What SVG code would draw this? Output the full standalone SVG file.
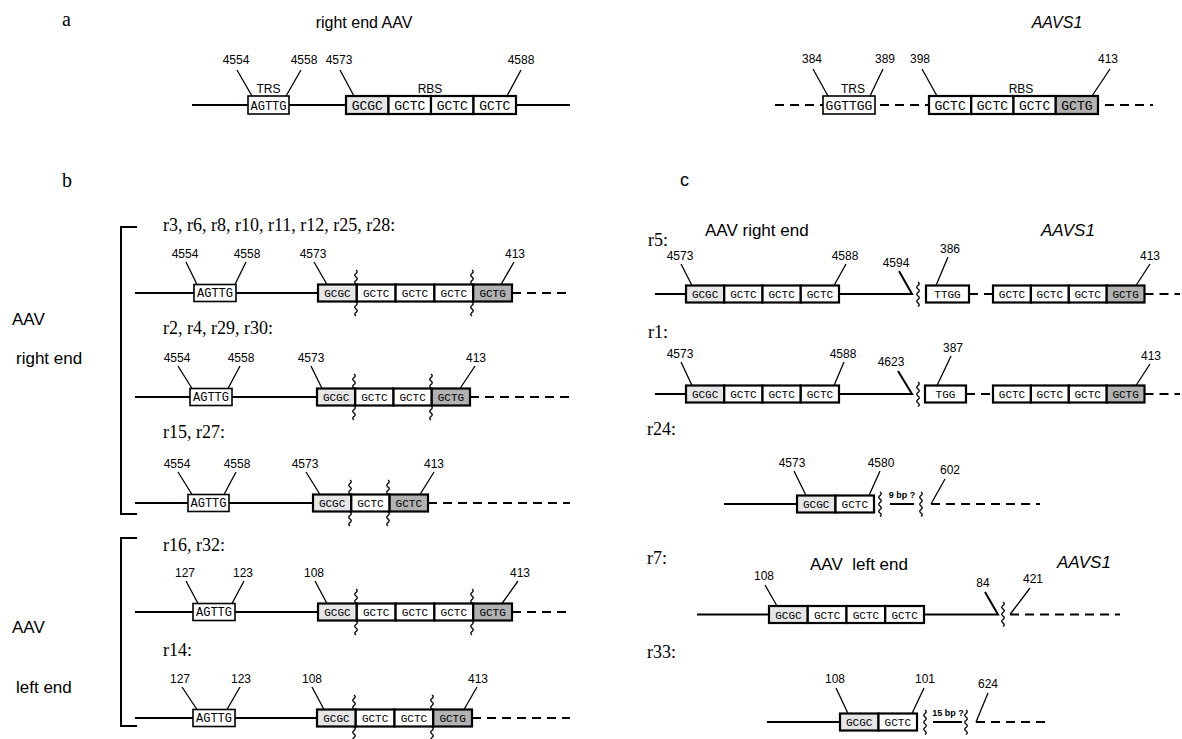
<svg xmlns="http://www.w3.org/2000/svg" width="1182" height="739" viewBox="0 0 1182 739">
<style>
.ln{stroke:#000;stroke-width:2;fill:none}
.ds{stroke:#000;stroke-width:2;stroke-dasharray:9 6;fill:none}
.pt{stroke:#000;stroke-width:1.3;fill:none}
.cb{stroke:#000;stroke-width:2.2}
.tb{fill:#fff;stroke:#000;stroke-width:1.6}
.c0{fill:#fff}
.c1{fill:#e6e6e6}
.c2{fill:#b2b2b2}
.sq{font-family:"Liberation Mono","DejaVu Sans Mono",monospace;font-size:11px;text-anchor:middle}
.sqa{font-family:"Liberation Mono","DejaVu Sans Mono",monospace;font-size:13px;text-anchor:middle}
.nm{font-family:"Liberation Sans",Arial,sans-serif;font-size:12px;text-anchor:middle}
.rl{font-family:"Liberation Serif","Times New Roman",serif;font-size:18px}
.hd{font-family:"Liberation Sans",Arial,sans-serif;font-size:16px}
.it{font-family:"Liberation Sans",Arial,sans-serif;font-size:16px;font-style:italic}
.sm{font-family:"Liberation Sans",Arial,sans-serif;font-size:9px;font-weight:bold;text-anchor:middle}
.wv{fill:none;stroke:#000;stroke-width:1.3}
</style>
<defs>
<path id="w14" class="wv" d="M0,0 q2.5,1.75 0,3.5 t0,3.5 t0,3.5 t0,3.5"/>
<path id="w24" class="wv" d="M0,0 q2.5,1.75 0,3.5 t0,3.5 t0,3.5 t0,3.5 t0,3.5 t0,3.5 t0,3.5"/>
</defs>

<!-- panel labels -->
<g id="labels">
<text class="rl" x="62" y="26" style="font-size:20px">a</text>
<text class="hd" x="364" y="28" text-anchor="middle">right end AAV</text>
<text class="it" x="1057" y="28" text-anchor="middle">AAVS1</text>
<text class="rl" x="62" y="187" style="font-size:20px">b</text>
<text class="hd" x="680" y="186" style="font-size:18px">c</text>
<text class="hd" x="12" y="325" style="font-size:17px">AAV</text>
<text class="hd" x="16" y="364" style="font-size:17px">right end</text>
<text class="hd" x="12" y="633" style="font-size:17px">AAV</text>
<text class="hd" x="16" y="693" style="font-size:17px">left end</text>
</g>

<!-- brackets -->
<g id="brackets">
<path class="ln" d="M137,227 H121 V514 H137"/>
<path class="ln" d="M137,538 H121 V726 H137"/>
</g>

<!-- panel a left -->
<g id="a-aav">
<line class="ln" x1="192" y1="105" x2="570" y2="105"/>
<rect class="tb" x="248" y="96" width="41" height="18"/>
<text class="sqa" x="268.5" y="109.5" style="font-size:12px">AGTTG</text>
<rect class="cb c1" x="346" y="96" width="42.5" height="18"/>
<rect class="cb c0" x="388.5" y="96" width="42.5" height="18"/>
<rect class="cb c0" x="431" y="96" width="42.5" height="18"/>
<rect class="cb c0" x="473.5" y="96" width="42.5" height="18"/>
<text class="sqa" x="367.25" y="109.5">GCGC</text>
<text class="sqa" x="409.75" y="109.5">GCTC</text>
<text class="sqa" x="452.25" y="109.5">GCTC</text>
<text class="sqa" x="494.75" y="109.5">GCTC</text>
<text class="nm" x="268.5" y="93">TRS</text>
<text class="nm" x="430" y="93">RBS</text>
<text class="nm" x="236" y="64">4554</text>
<text class="nm" x="304" y="64">4558</text>
<text class="nm" x="339" y="64">4573</text>
<text class="nm" x="521" y="64">4588</text>
<path class="pt" d="M237,70 L252,96 M301,70 L286,96 M340,70 L354,96 M521,70 L507,96"/>
</g>

<!-- panel a right -->
<g id="a-aavs1">
<line class="ds" x1="775" y1="105" x2="1153" y2="105"/>
<rect class="tb" x="823" y="96" width="52" height="18"/>
<text class="sqa" x="849" y="109.5">GGTTGG</text>
<rect class="cb c0" x="929" y="96" width="42.25" height="18"/>
<rect class="cb c0" x="971.25" y="96" width="42.25" height="18"/>
<rect class="cb c0" x="1013.5" y="96" width="42.25" height="18"/>
<rect class="cb c2" x="1055.75" y="96" width="42.25" height="18"/>
<text class="sqa" x="950.1" y="109.5">GCTC</text>
<text class="sqa" x="992.4" y="109.5">GCTC</text>
<text class="sqa" x="1034.6" y="109.5">GCTC</text>
<text class="sqa" x="1076.9" y="109.5">GCTG</text>
<text class="nm" x="853" y="93">TRS</text>
<text class="nm" x="1021" y="93">RBS</text>
<text class="nm" x="812" y="63">384</text>
<text class="nm" x="885" y="63">389</text>
<text class="nm" x="920" y="63">398</text>
<text class="nm" x="1108" y="63">413</text>
<path class="pt" d="M813,69 L828,96 M883,69 L870,96 M922,69 L937,96 M1110,69 L1092,96"/>
</g>

<!-- panel b: r3 row (L=293) -->
<g id="b-r3">
<text class="rl" x="163" y="231">r3, r6, r8, r10, r11, r12, r25, r28:</text>
<line class="ln" x1="135" y1="293" x2="318" y2="293"/>
<line class="ds" x1="512" y1="293" x2="570" y2="293"/>
<rect class="tb" x="194" y="284.5" width="42" height="17"/>
<text class="sq" x="215" y="297" style="font-size:12px">AGTTG</text>
<rect class="cb c1" x="318" y="284.5" width="38.8" height="17"/>
<rect class="cb c0" x="356.8" y="284.5" width="38.8" height="17"/>
<rect class="cb c0" x="395.6" y="284.5" width="38.8" height="17"/>
<rect class="cb c0" x="434.4" y="284.5" width="38.8" height="17"/>
<rect class="cb c2" x="473.2" y="284.5" width="38.8" height="17"/>
<text class="sq" x="337.4" y="297">GCGC</text>
<text class="sq" x="376.2" y="297">GCTC</text>
<text class="sq" x="415" y="297">GCTC</text>
<text class="sq" x="453.8" y="297">GCTC</text>
<text class="sq" x="492.6" y="297">GCTG</text>
<use href="#w14" x="356" y="270"/><use href="#w14" x="356" y="302"/>
<use href="#w14" x="472" y="270"/><use href="#w14" x="472" y="302"/>
<text class="nm" x="185" y="258">4554</text>
<text class="nm" x="247" y="258">4558</text>
<text class="nm" x="313" y="258">4573</text>
<text class="nm" x="515" y="258">413</text>
<path class="pt" d="M186,262 L197,284.5 M246,262 L235,284.5 M314,262 L327,284.5 M514,262 L501,284.5"/>
</g>

<!-- panel b: r2 row (L=397) -->
<g id="b-r2">
<text class="rl" x="163" y="334">r2, r4, r29, r30:</text>
<line class="ln" x1="135" y1="397" x2="317" y2="397"/>
<line class="ds" x1="470" y1="397" x2="570" y2="397"/>
<rect class="tb" x="190" y="388.5" width="42" height="17"/>
<text class="sq" x="211" y="401" style="font-size:12px">AGTTG</text>
<rect class="cb c1" x="317" y="388.5" width="38.25" height="17"/>
<rect class="cb c0" x="355.25" y="388.5" width="38.25" height="17"/>
<rect class="cb c0" x="393.5" y="388.5" width="38.25" height="17"/>
<rect class="cb c2" x="431.75" y="388.5" width="38.25" height="17"/>
<text class="sq" x="336.1" y="401">GCGC</text>
<text class="sq" x="374.4" y="401">GCTC</text>
<text class="sq" x="412.6" y="401">GCTC</text>
<text class="sq" x="450.9" y="401">GCTG</text>
<use href="#w14" x="354" y="374"/><use href="#w14" x="354" y="406"/>
<use href="#w14" x="431" y="374"/><use href="#w14" x="431" y="406"/>
<text class="nm" x="177" y="362">4554</text>
<text class="nm" x="241" y="362">4558</text>
<text class="nm" x="311" y="362">4573</text>
<text class="nm" x="476" y="362">413</text>
<path class="pt" d="M178,366 L192,388.5 M240,366 L228,388.5 M311,366 L322,388.5 M475,366 L460,388.5"/>
</g>

<!-- panel b: r15 row (L=503) -->
<g id="b-r15">
<text class="rl" x="163" y="438">r15, r27:</text>
<line class="ln" x1="135" y1="503" x2="313" y2="503"/>
<line class="ds" x1="428" y1="503" x2="570" y2="503"/>
<rect class="tb" x="188" y="494.5" width="41" height="17"/>
<text class="sq" x="208.5" y="507" style="font-size:12px">AGTTG</text>
<rect class="cb c1" x="313" y="494.5" width="38.3" height="17"/>
<rect class="cb c0" x="351.3" y="494.5" width="38.3" height="17"/>
<rect class="cb c2" x="389.6" y="494.5" width="38.4" height="17"/>
<text class="sq" x="332.1" y="507">GCGC</text>
<text class="sq" x="370.4" y="507">GCTC</text>
<text class="sq" x="408.8" y="507">GCTC</text>
<use href="#w14" x="350" y="480"/><use href="#w14" x="350" y="512"/>
<use href="#w14" x="388" y="480"/><use href="#w14" x="388" y="512"/>
<text class="nm" x="177" y="468">4554</text>
<text class="nm" x="237" y="468">4558</text>
<text class="nm" x="305" y="468">4573</text>
<text class="nm" x="434" y="468">413</text>
<path class="pt" d="M178,472 L192,494.5 M236,472 L224,494.5 M306,472 L320,494.5 M434,472 L420,494.5"/>
</g>

<!-- panel b: r16 row (L=612) -->
<g id="b-r16">
<text class="rl" x="163" y="551">r16, r32:</text>
<line class="ln" x1="135" y1="612" x2="318" y2="612"/>
<line class="ds" x1="512" y1="612" x2="570" y2="612"/>
<rect class="tb" x="193" y="603.5" width="42" height="17"/>
<text class="sq" x="214" y="616" style="font-size:12px">AGTTG</text>
<rect class="cb c1" x="318" y="603.5" width="38.8" height="17"/>
<rect class="cb c0" x="356.8" y="603.5" width="38.8" height="17"/>
<rect class="cb c0" x="395.6" y="603.5" width="38.8" height="17"/>
<rect class="cb c0" x="434.4" y="603.5" width="38.8" height="17"/>
<rect class="cb c2" x="473.2" y="603.5" width="38.8" height="17"/>
<text class="sq" x="337.4" y="616">GCGC</text>
<text class="sq" x="376.2" y="616">GCTC</text>
<text class="sq" x="415" y="616">GCTC</text>
<text class="sq" x="453.8" y="616">GCTC</text>
<text class="sq" x="492.6" y="616">GCTG</text>
<use href="#w14" x="356" y="589"/><use href="#w14" x="356" y="621"/>
<use href="#w14" x="472" y="589"/><use href="#w14" x="472" y="621"/>
<text class="nm" x="185" y="577">127</text>
<text class="nm" x="243" y="577">123</text>
<text class="nm" x="314" y="577">108</text>
<text class="nm" x="520" y="577">413</text>
<path class="pt" d="M186,581 L198,603.5 M244,581 L232,603.5 M315,581 L327,603.5 M518,581 L502,603.5"/>
</g>

<!-- panel b: r14 row (L=718) -->
<g id="b-r14">
<text class="rl" x="163" y="656">r14:</text>
<line class="ln" x1="135" y1="718" x2="317" y2="718"/>
<line class="ds" x1="472" y1="718" x2="570" y2="718"/>
<rect class="tb" x="193" y="709.5" width="42" height="17"/>
<text class="sq" x="214" y="722" style="font-size:12px">AGTTG</text>
<rect class="cb c1" x="317" y="709.5" width="38.75" height="17"/>
<rect class="cb c0" x="355.75" y="709.5" width="38.75" height="17"/>
<rect class="cb c0" x="394.5" y="709.5" width="38.75" height="17"/>
<rect class="cb c2" x="433.25" y="709.5" width="38.75" height="17"/>
<text class="sq" x="336.4" y="722">GCGC</text>
<text class="sq" x="375.1" y="722">GCTC</text>
<text class="sq" x="413.9" y="722">GCTC</text>
<text class="sq" x="452.6" y="722">GCTG</text>
<use href="#w14" x="354" y="695"/><use href="#w14" x="354" y="727"/>
<use href="#w14" x="432" y="695"/><use href="#w14" x="432" y="727"/>
<text class="nm" x="180" y="683">127</text>
<text class="nm" x="241" y="683">123</text>
<text class="nm" x="312" y="683">108</text>
<text class="nm" x="478" y="683">413</text>
<path class="pt" d="M182,687 L197,709.5 M240,687 L227,709.5 M312,687 L324,709.5 M477,687 L464,709.5"/>
</g>

<!-- panel c: r5 row (L=294) -->
<g id="c-r5">
<text class="rl" x="648" y="246">r5:</text>
<text class="hd" x="705" y="236" style="font-size:17px">AAV right end</text>
<text class="it" x="1041" y="236" style="font-size:17px">AAVS1</text>
<line class="ln" x1="655" y1="294" x2="686" y2="294"/>
<path class="ln" d="M839,294 H912 L899,271"/>
<line class="ds" x1="969" y1="294" x2="993" y2="294"/>
<line class="ds" x1="1144.5" y1="294" x2="1180" y2="294"/>
<use href="#w24" x="918" y="282"/>
<rect class="cb c1" x="686" y="285.5" width="38.25" height="17"/>
<rect class="cb c0" x="724.25" y="285.5" width="38.25" height="17"/>
<rect class="cb c0" x="762.5" y="285.5" width="38.25" height="17"/>
<rect class="cb c0" x="800.75" y="285.5" width="38.25" height="17"/>
<text class="sq" x="705.1" y="298">GCGC</text>
<text class="sq" x="743.4" y="298">GCTC</text>
<text class="sq" x="781.6" y="298">GCTC</text>
<text class="sq" x="819.9" y="298">GCTC</text>
<rect class="cb c0" x="926" y="285.5" width="43" height="17"/>
<text class="sq" x="947.5" y="298">TTGG</text>
<rect class="cb c0" x="993" y="285.5" width="37.9" height="17"/>
<rect class="cb c0" x="1030.9" y="285.5" width="37.9" height="17"/>
<rect class="cb c0" x="1068.8" y="285.5" width="37.9" height="17"/>
<rect class="cb c2" x="1106.7" y="285.5" width="37.8" height="17"/>
<text class="sq" x="1012" y="298">GCTC</text>
<text class="sq" x="1049.8" y="298">GCTC</text>
<text class="sq" x="1087.7" y="298">GCTC</text>
<text class="sq" x="1125.6" y="298">GCTG</text>
<text class="nm" x="680" y="260">4573</text>
<text class="nm" x="845" y="260">4588</text>
<text class="nm" x="896" y="267">4594</text>
<text class="nm" x="950" y="253">386</text>
<text class="nm" x="1150" y="260">413</text>
<path class="pt" d="M681,264 L692,285.5 M846,264 L834,285.5 M948,257 L936,285.5 M1150,264 L1136,285.5"/>
</g>

<!-- panel c: r1 row (L=394) -->
<g id="c-r1">
<text class="rl" x="648" y="338">r1:</text>
<line class="ln" x1="655" y1="394" x2="686" y2="394"/>
<path class="ln" d="M839,394 H912 L898,371"/>
<line class="ds" x1="966" y1="394" x2="993" y2="394"/>
<line class="ds" x1="1144.5" y1="394" x2="1180" y2="394"/>
<use href="#w24" x="918" y="382"/>
<rect class="cb c1" x="686" y="385.5" width="38.25" height="17"/>
<rect class="cb c0" x="724.25" y="385.5" width="38.25" height="17"/>
<rect class="cb c0" x="762.5" y="385.5" width="38.25" height="17"/>
<rect class="cb c0" x="800.75" y="385.5" width="38.25" height="17"/>
<text class="sq" x="705.1" y="398">GCGC</text>
<text class="sq" x="743.4" y="398">GCTC</text>
<text class="sq" x="781.6" y="398">GCTC</text>
<text class="sq" x="819.9" y="398">GCTC</text>
<rect class="cb c0" x="925" y="385.5" width="41" height="17"/>
<text class="sq" x="945.5" y="398">TGG</text>
<rect class="cb c0" x="993" y="385.5" width="37.9" height="17"/>
<rect class="cb c0" x="1030.9" y="385.5" width="37.9" height="17"/>
<rect class="cb c0" x="1068.8" y="385.5" width="37.9" height="17"/>
<rect class="cb c2" x="1106.7" y="385.5" width="37.8" height="17"/>
<text class="sq" x="1012" y="398">GCTC</text>
<text class="sq" x="1049.8" y="398">GCTC</text>
<text class="sq" x="1087.7" y="398">GCTC</text>
<text class="sq" x="1125.6" y="398">GCTG</text>
<text class="nm" x="680" y="358">4573</text>
<text class="nm" x="843" y="358">4588</text>
<text class="nm" x="891" y="366">4623</text>
<text class="nm" x="953" y="352">387</text>
<text class="nm" x="1151" y="360">413</text>
<path class="pt" d="M681,362 L692,385.5 M844,362 L834,385.5 M951,356 L937,385.5 M1150,364 L1136,385.5"/>
</g>

<!-- panel c: r24 row (L=504) -->
<g id="c-r24">
<text class="rl" x="647" y="435">r24:</text>
<line class="ln" x1="724" y1="504" x2="797" y2="504"/>
<line class="ln" x1="890" y1="504" x2="914" y2="504"/>
<path class="pt" d="M945,479 L931,504"/>
<line class="ds" x1="931" y1="504" x2="1040" y2="504"/>
<rect class="cb c1" x="797" y="495.5" width="38.5" height="17"/>
<rect class="cb c0" x="835.5" y="495.5" width="38.5" height="17"/>
<text class="sq" x="816.2" y="508">GCGC</text>
<text class="sq" x="854.8" y="508">GCTC</text>
<use href="#w24" x="880" y="492"/>
<use href="#w24" x="921" y="492"/>
<text class="sm" x="902" y="498">9 bp ?</text>
<text class="nm" x="792" y="467">4573</text>
<text class="nm" x="881" y="467">4580</text>
<text class="nm" x="950" y="474">602</text>
<path class="pt" d="M794,471 L806,495.5 M880,471 L869,495.5"/>
</g>

<!-- panel c: r7 row (L=614.5) -->
<g id="c-r7">
<text class="rl" x="647" y="564">r7:</text>
<text class="hd" x="810" y="570" style="white-space:pre;font-size:17px">AAV  left end</text>
<text class="it" x="1057" y="568" style="font-size:17px">AAVS1</text>
<line class="ln" x1="697" y1="614.5" x2="769" y2="614.5"/>
<path class="ln" d="M924,614.5 H998 L985,592"/>
<path class="pt" d="M1030,588 L1010,614.5"/>
<line class="ds" x1="1010" y1="614.5" x2="1120" y2="614.5"/>
<use href="#w24" x="1003" y="602"/>
<rect class="cb c1" x="769" y="606" width="38.75" height="17"/>
<rect class="cb c0" x="807.75" y="606" width="38.75" height="17"/>
<rect class="cb c0" x="846.5" y="606" width="38.75" height="17"/>
<rect class="cb c0" x="885.25" y="606" width="38.75" height="17"/>
<text class="sq" x="788.4" y="618.5">GCGC</text>
<text class="sq" x="827.1" y="618.5">GCTC</text>
<text class="sq" x="865.9" y="618.5">GCTC</text>
<text class="sq" x="904.6" y="618.5">GCTC</text>
<text class="nm" x="764" y="580">108</text>
<text class="nm" x="983" y="587">84</text>
<text class="nm" x="1033" y="583">421</text>
<path class="pt" d="M765,585 L777,606"/>
</g>

<!-- panel c: r33 row (L=722) -->
<g id="c-r33">
<text class="rl" x="647" y="658">r33:</text>
<line class="ln" x1="767" y1="722" x2="840" y2="722"/>
<line class="ln" x1="933" y1="722" x2="962" y2="722"/>
<path class="pt" d="M988,693 L976,722"/>
<line class="ds" x1="976" y1="722" x2="1050" y2="722"/>
<rect class="cb c1" x="840" y="713.5" width="38.5" height="17"/>
<rect class="cb c0" x="878.5" y="713.5" width="38.5" height="17"/>
<text class="sq" x="859.2" y="726">GCGC</text>
<text class="sq" x="897.8" y="726">GCTC</text>
<use href="#w24" x="925" y="710"/>
<use href="#w24" x="966" y="710"/>
<text class="sm" x="948" y="716">15 bp ?</text>
<text class="nm" x="835" y="683">108</text>
<text class="nm" x="925" y="683">101</text>
<text class="nm" x="988" y="688">624</text>
<path class="pt" d="M836,688 L848,713.5 M924,688 L912,713.5"/>
</g>
</svg>
